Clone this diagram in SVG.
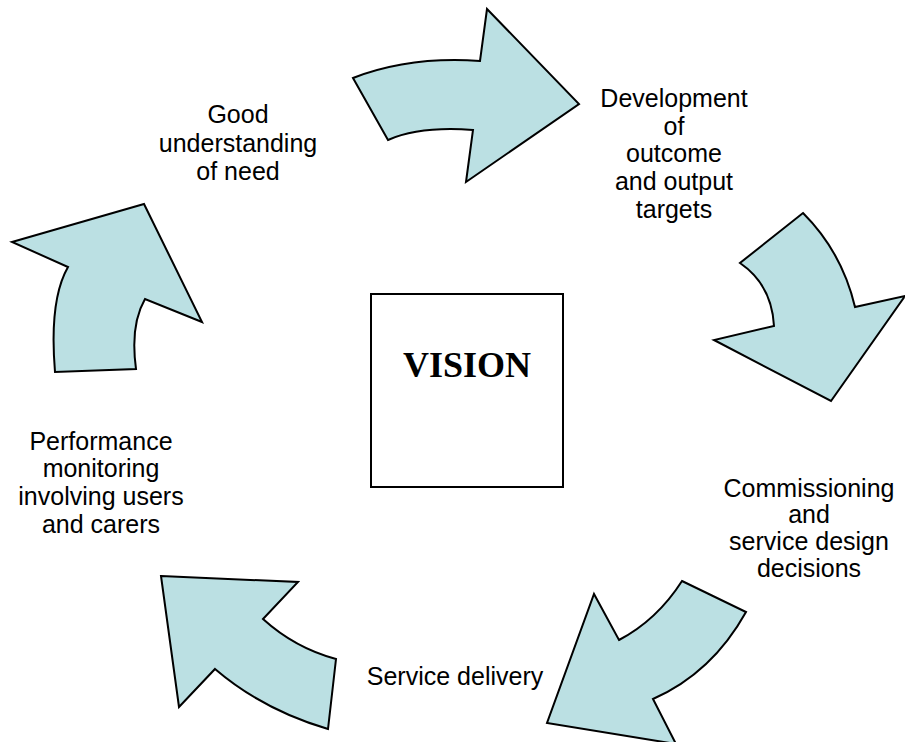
<svg xmlns="http://www.w3.org/2000/svg" width="905" height="742" viewBox="0 0 905 742">
<style>
.arrow{fill:#BBE0E3;stroke:#000;stroke-width:2;stroke-linejoin:miter}
.lbl{font-family:"Liberation Sans",Arial,sans-serif;font-size:25px;fill:#000;text-anchor:middle}
.box{fill:#fff;stroke:#000;stroke-width:2}
.vis{font-family:"Liberation Serif","Times New Roman",serif;font-size:36px;font-weight:bold;fill:#000;text-anchor:middle}
</style>
<rect width="905" height="742" fill="#fff"/>
<g id="connectors">
<path id="arrow-top" class="arrow" d="M353,78 Q410,56 480,61 L487,9 L579,104 L466,182 L473,130 Q420,126 388,140 Z"/>
<path id="arrow-right" class="arrow" d="M803,213 Q842,252 855,307 L905,296 L831,401 L714,340 L774,326 Q772,285 740,263 Z"/>
<path id="arrow-bottom-right" class="arrow" d="M682,581 L746,612 Q712,673 653,699 L676,744 L547,723 L594,594 L619,640 Q657,620 682,581 Z"/>
<path id="arrow-bottom-left" class="arrow" d="M161,576 L298,582 L263,619 Q295,648 336,659 L328,729 Q263,710 215,669 L179,707 Z"/>
<path id="arrow-left" class="arrow" d="M12,242 L144,204 L202,322 L145,299 Q130,325 136,369 L55,372 Q49,300 68,267 Z"/>
</g>
<g id="vision">
<rect class="box" x="371" y="294" width="192" height="193"/>
<text class="vis" x="467" y="377">VISION</text>
</g>
<g id="need">
<text class="lbl" x="238" y="123">Good</text>
<text class="lbl" x="238" y="152">understanding</text>
<text class="lbl" x="238" y="180">of need</text>
</g>
<g id="development">
<text class="lbl" x="674" y="107">Development</text>
<text class="lbl" x="674" y="135">of</text>
<text class="lbl" x="674" y="162">outcome</text>
<text class="lbl" x="674" y="190">and output</text>
<text class="lbl" x="674" y="218">targets</text>
</g>
<g id="commissioning">
<text class="lbl" x="809" y="497">Commissioning</text>
<text class="lbl" x="809" y="523">and</text>
<text class="lbl" x="809" y="550">service design</text>
<text class="lbl" x="809" y="577">decisions</text>
</g>
<g id="delivery">
<text class="lbl" x="455" y="685">Service delivery</text>
</g>
<g id="monitoring">
<text class="lbl" x="101" y="450">Performance</text>
<text class="lbl" x="101" y="477">monitoring</text>
<text class="lbl" x="101" y="505">involving users</text>
<text class="lbl" x="101" y="533">and carers</text>
</g>
</svg>
